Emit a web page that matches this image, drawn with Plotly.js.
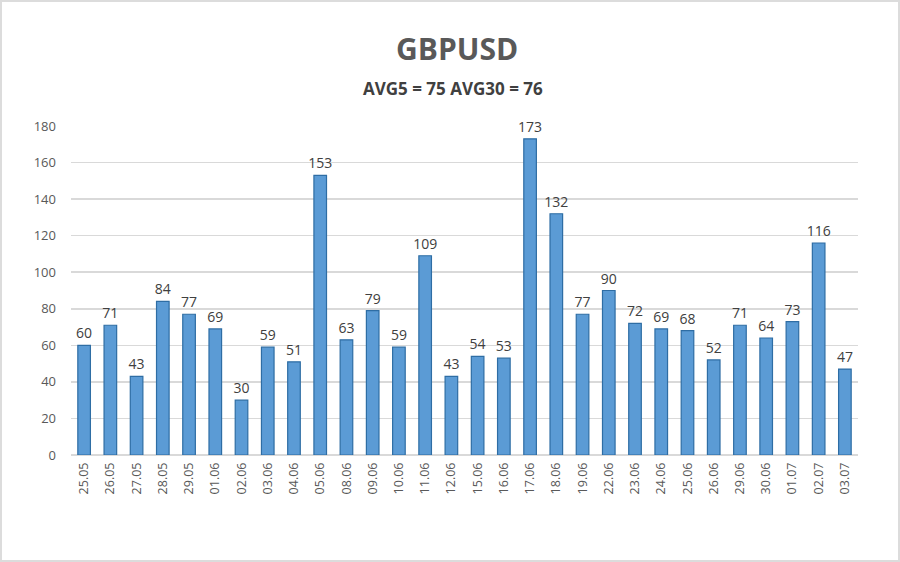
<!DOCTYPE html>
<html><head><meta charset="utf-8">
<script src="https://cdn.plot.ly/plotly-3.0.1.min.js"></script>
<style>
html,body{margin:0;padding:0;background:#fff;}
#wrap{width:896px;height:558px;border:2px solid #dcdcdc;background:#fff;}
#chart{width:896px;height:558px;}
</style></head>
<body><div id="wrap"><div id="chart"></div></div>
<script>
const dates = ["25.05","26.05","27.05","28.05","29.05","01.06","02.06","03.06","04.06","05.06","08.06","09.06","10.06","11.06","12.06","15.06","16.06","17.06","18.06","19.06","22.06","23.06","24.06","25.06","26.06","29.06","30.06","01.07","02.07","03.07"];
const values = [60,71,43,84,77,69,30,59,51,153,63,79,59,109,43,54,53,173,132,77,90,72,69,68,52,71,64,73,116,47];
const titleText = "GBPUSD";
const subtitleText = "AVG5 = 75 AVG30 = 76";

const font = "'Open Sans', 'Noto Sans', sans-serif";
Plotly.newPlot("chart", [{
  type: "bar",
  x: dates,
  y: values,
  text: values.map(String),
  textposition: "outside",
  cliponaxis: false,
  textfont: {family: font, size: 14, color: "#404040"},
  marker: {color: "#5b9bd5", line: {color: "#2e6da4", width: 1.2}},
  width: 0.48,
  hoverinfo: "x+y"
}], {
  width: 896, height: 558,
  margin: {l: 69, r: 40, t: 124, b: 105},
  paper_bgcolor: "#fff", plot_bgcolor: "#fff",
  showlegend: false,
  uniformtext: {mode: "show", minsize: 14},
  xaxis: {
    type: "category",
    tickangle: -90,
    tickfont: {family: font, size: 12.5, color: "#595959"},
    showgrid: false,
    showline: false,
    ticks: "",
    ticklabelstandoff: 4
  },
  yaxis: {
    range: [0, 180],
    dtick: 20,
    tickfont: {family: font, size: 13, color: "#595959"},
    gridcolor: "#d9d9d9",
    gridwidth: 1.5,
    zeroline: true,
    zerolinecolor: "#d9d9d9",
    zerolinewidth: 1.5,
    showline: false,
    ticks: "",
    ticklabelstandoff: 14
  },
  annotations: [
    {text: "<b>" + titleText + "</b>", xref: "paper", yref: "paper", x: 0.49, y: 1, yshift: 78, showarrow: false,
     xanchor: "center", yanchor: "middle", font: {family: font, size: 30, color: "#595959"}},
    {text: "<b>" + subtitleText + "</b>", xref: "paper", yref: "paper", x: 0.485, y: 1, yshift: 38, showarrow: false,
     xanchor: "center", yanchor: "middle", font: {family: font, size: 17, color: "#404040"}}
  ]
}, {displayModeBar: false, staticPlot: true});
</script></body></html>
